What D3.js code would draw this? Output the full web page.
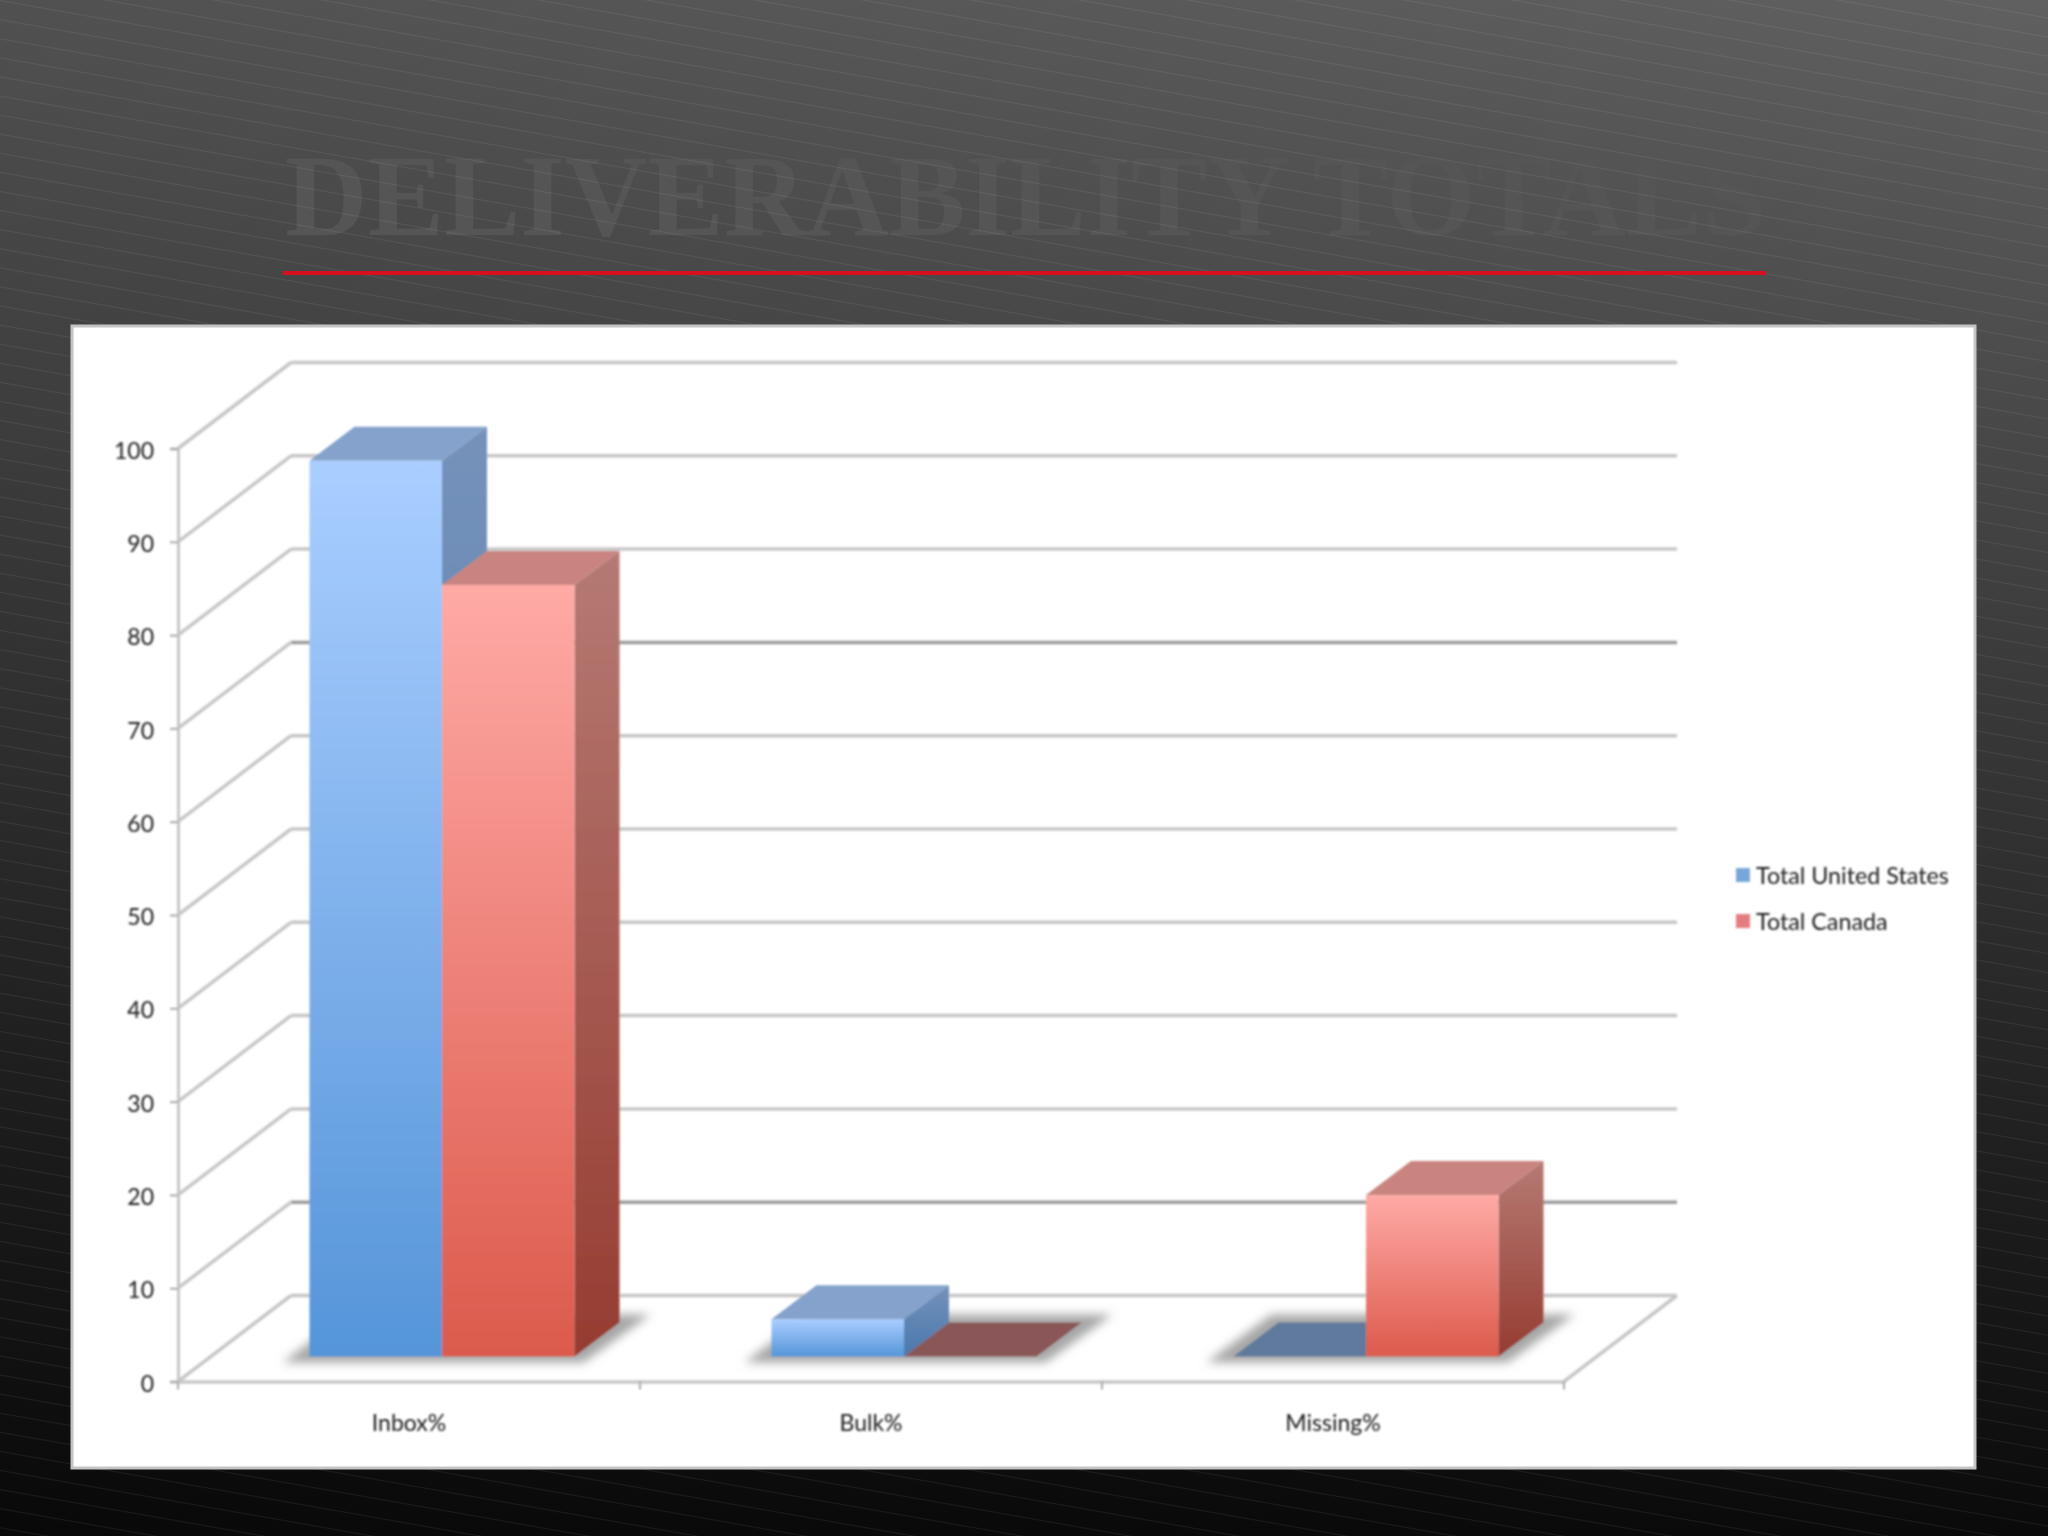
<!DOCTYPE html>
<html>
<head>
<meta charset="utf-8">
<style>
  html, body { margin: 0; padding: 0; background: #000; }
  svg { display: block; }
  text { font-family: Lato, "Open Sans", sans-serif; fill: #1a1a1a; }
</style>
<script src="https://cdn.jsdelivr.net/npm/d3@7"></script>
</head>
<body>
<div id="wrapper"></div>
<script>
// 1. Data
const titleText = "DELIVERABILITY TOTALS"
const categories = ["Inbox%", "Bulk%", "Missing%"]
const seriesNames = ["Total United States", "Total Canada"]
const usValues = [96, 4, 0]
const canadaValues = [82.7, 0, 17.3]
const yTicks = [0, 10, 20, 30, 40, 50, 60, 70, 80, 90, 100]

// 2. Dimensions
const width = 2048
const height = 1536
const plot = { left: 178, right: 1564, top: 448.5, bottom: 1381.5 }
const wall = { dx: 113, dy: 86 }     // depth of the floor
const barOffset = { dx: 33, dy: 25 } // front of the bars, from the front of the floor
const barDepth = { dx: 45, dy: 34 }

const svg = d3.select("#wrapper").append("svg")
  .attr("width", width)
  .attr("height", height)
  .attr("viewBox", `0 0 ${width} ${height}`)

const defs = svg.append("defs")

const addGradient = (id, top, bottom) => {
  const g = defs.append("linearGradient").attr("id", id)
    .attr("x1", 0).attr("y1", 0).attr("x2", 0).attr("y2", 1)
  g.append("stop").attr("offset", "0%").attr("stop-color", top)
  g.append("stop").attr("offset", "100%").attr("stop-color", bottom)
}
addGradient("bg", "#606060", "#0a0a0a")
addGradient("front0", "#aaceff", "#5595d9")
addGradient("front1", "#ffaaa6", "#dc5a4c")
addGradient("side0", "#7592ba", "#4a78ad")
addGradient("side1", "#b57a74", "#963c31")

const sideShade = defs.append("linearGradient").attr("id", "sideShade")
  .attr("x1", 0).attr("y1", 0).attr("x2", 1).attr("y2", 0)
sideShade.append("stop").attr("offset", "0%").attr("stop-color", "#000").attr("stop-opacity", 0.16)
sideShade.append("stop").attr("offset", "100%").attr("stop-color", "#000").attr("stop-opacity", 0)

defs.append("pattern").attr("id", "hatch")
  .attr("patternUnits", "userSpaceOnUse")
  .attr("width", 200).attr("height", 18.8)
  .attr("patternTransform", "rotate(10)")
  .append("rect")
  .attr("width", 200).attr("height", 1)
  .attr("fill", "#fff").attr("fill-opacity", 0.07)

defs.append("filter").attr("id", "soft")
  .attr("filterUnits", "userSpaceOnUse")
  .attr("x", 0).attr("y", 0).attr("width", width).attr("height", height)
  .append("feGaussianBlur").attr("stdDeviation", 0.8)
defs.append("filter").attr("id", "shadowBlur")
  .attr("x", "-10%").attr("y", "-30%").attr("width", "120%").attr("height", "160%")
  .append("feGaussianBlur").attr("stdDeviation", 5)

// 3. Slide background
svg.append("rect").attr("width", width).attr("height", height).attr("fill", "url(#bg)")
svg.append("rect").attr("width", width).attr("height", height).attr("fill", "url(#sideShade)")

svg.append("text")
  .attr("x", 285)
  .attr("y", 235)
  .attr("textLength", 1481)
  .attr("lengthAdjust", "spacingAndGlyphs")
  .style("font-family", '"Liberation Serif", serif')
  .style("font-weight", "bold")
  .style("font-size", "116px")
  .style("fill", "#555555")
  .text(titleText)

svg.append("rect").attr("width", width).attr("height", height).attr("fill", "url(#hatch)")

svg.append("line")
  .attr("x1", 283).attr("x2", 1766)
  .attr("y1", 273).attr("y2", 273)
  .attr("stroke", "#d80f1c")
  .attr("stroke-width", 4)

svg.append("rect")
  .attr("x", 72).attr("y", 326)
  .attr("width", 1903).attr("height", 1142)
  .attr("fill", "#fff")
  .attr("stroke", "#c4c4c4")
  .attr("stroke-width", 3)

// 4. Scales
const yScale = d3.scaleLinear().domain([0, 100]).range([plot.bottom, plot.top])
const xScale = d3.scaleBand().domain(categories).range([plot.left, plot.right])
const seriesScale = d3.scaleBand()
  .domain(seriesNames)
  .range([0, xScale.bandwidth()])
  .paddingInner(0)
  .paddingOuter(0.743)

const chart = svg.append("g").attr("filter", "url(#soft)")

// 5. Walls and grid
const gridColor = d => (d === 70 || d === 10) ? "#9c9c9c" : "#c6c6c6"

const grid = chart.append("g")
grid.selectAll(".back")
  .data(yTicks)
  .join("line")
  .attr("class", "back")
  .attr("x1", plot.left + wall.dx)
  .attr("x2", plot.right + wall.dx)
  .attr("y1", d => yScale(d) - wall.dy)
  .attr("y2", d => yScale(d) - wall.dy)
  .attr("stroke", gridColor)
  .attr("stroke-width", 3.5)

grid.selectAll(".side")
  .data(yTicks)
  .join("line")
  .attr("class", "side")
  .attr("x1", plot.left)
  .attr("x2", plot.left + wall.dx)
  .attr("y1", d => yScale(d))
  .attr("y2", d => yScale(d) - wall.dy)
  .attr("stroke", "#c6c6c6")
  .attr("stroke-width", 3.5)

// right edge of the floor
grid.append("line")
  .attr("x1", plot.right).attr("x2", plot.right + wall.dx)
  .attr("y1", yScale(0)).attr("y2", yScale(0) - wall.dy)
  .attr("stroke", "#c6c6c6")
  .attr("stroke-width", 3.5)

// 6. Bars
const rows = categories.map((c, i) => ({
  category: c,
  bars: [
    { series: seriesNames[0], index: 0, value: usValues[i] },
    { series: seriesNames[1], index: 1, value: canadaValues[i] },
  ],
}))

const point = (x, y) => `${x},${y}`

const groups = chart.selectAll(".category")
  .data(rows)
  .join("g")
  .attr("class", "category")
  .attr("transform", d => `translate(${xScale(d.category) + barOffset.dx}, ${-barOffset.dy})`)

// shadow on the floor
groups.append("polygon")
  .attr("points", () => {
    const left = seriesScale(seriesNames[0])
    const right = seriesScale(seriesNames[1]) + seriesScale.bandwidth()
    const base = yScale(0)
    return [
      point(left - 27, base + 6),
      point(right + 9, base + 6),
      point(right + 76, base - 42),
      point(left + 38, base - 42),
    ].join(" ")
  })
  .attr("fill", "#a6a6a6")
  .attr("filter", "url(#shadowBlur)")

const frontTop = ["#84a2cb", "#c98480"]
const zeroTop = ["#5f7a9c", "#8b5658"]

const bars = groups.selectAll(".bar")
  .data(d => d.bars)
  .join("g")
  .attr("class", "bar")

// top face
bars.append("polygon")
  .attr("points", d => {
    const x0 = seriesScale(d.series)
    const x1 = x0 + seriesScale.bandwidth()
    const y = yScale(d.value)
    return [
      point(x0, y),
      point(x1, y),
      point(x1 + barDepth.dx, y - barDepth.dy),
      point(x0 + barDepth.dx, y - barDepth.dy),
    ].join(" ")
  })
  .attr("fill", d => d.value === 0 ? zeroTop[d.index] : frontTop[d.index])

const drawn = bars.filter(d => d.value > 0)

// side face
drawn.append("polygon")
  .attr("points", d => {
    const x1 = seriesScale(d.series) + seriesScale.bandwidth()
    const y = yScale(d.value)
    return [
      point(x1, y),
      point(x1 + barDepth.dx, y - barDepth.dy),
      point(x1 + barDepth.dx, yScale(0) - barDepth.dy),
      point(x1, yScale(0)),
    ].join(" ")
  })
  .attr("fill", d => `url(#side${d.index})`)

// front face
drawn.append("rect")
  .attr("x", d => seriesScale(d.series))
  .attr("y", d => yScale(d.value))
  .attr("width", seriesScale.bandwidth())
  .attr("height", d => yScale(0) - yScale(d.value))
  .attr("fill", d => `url(#front${d.index})`)

// 7. Axes
const yAxisGenerator = d3.axisLeft(yScale)
  .tickValues(yTicks)
  .tickSize(8)
  .tickPadding(16)

const yAxis = chart.append("g")
  .attr("transform", `translate(${plot.left}, 0)`)
  .call(yAxisGenerator)
yAxis.select(".domain").attr("stroke", "#c6c6c6").attr("stroke-width", 3)
yAxis.selectAll(".tick line").attr("stroke", "#a8a8a8").attr("stroke-width", 2)
yAxis.selectAll("text")
  .attr("dy", "0.42em")
  .style("font-size", "23px").style("font-family", "Lato").style("fill", "#1a1a1a")

const xAxisGenerator = d3.axisBottom(xScale)
  .tickSize(0)
  .tickPadding(33)

const xAxis = chart.append("g")
  .attr("transform", `translate(0, ${plot.bottom})`)
  .call(xAxisGenerator)
xAxis.select(".domain").attr("stroke", "#c6c6c6").attr("stroke-width", 3.5)
xAxis.selectAll("text").style("font-size", "23px").style("font-family", "Lato").style("fill", "#1a1a1a")

// tick marks sit between the categories
xAxis.selectAll(".edge")
  .data([...categories.map(c => xScale(c)), plot.right])
  .join("line")
  .attr("class", "edge")
  .attr("x1", d => d).attr("x2", d => d)
  .attr("y1", 0).attr("y2", 8)
  .attr("stroke", "#a8a8a8")
  .attr("stroke-width", 2)

// 8. Legend
const legend = chart.selectAll(".legend")
  .data(seriesNames)
  .join("g")
  .attr("class", "legend")
  .attr("transform", (d, i) => `translate(1736, ${875 + i * 46})`)

legend.append("rect")
  .attr("y", -7)
  .attr("width", 14)
  .attr("height", 14)
  .attr("fill", (d, i) => i === 0 ? "#77a7d8" : "#e57d80")

legend.append("text")
  .attr("x", 20)
  .attr("y", 1)
  .attr("dy", "0.35em")
  .style("font-size", "23.3px")
  .text(d => d)
</script>
</body>
</html>
